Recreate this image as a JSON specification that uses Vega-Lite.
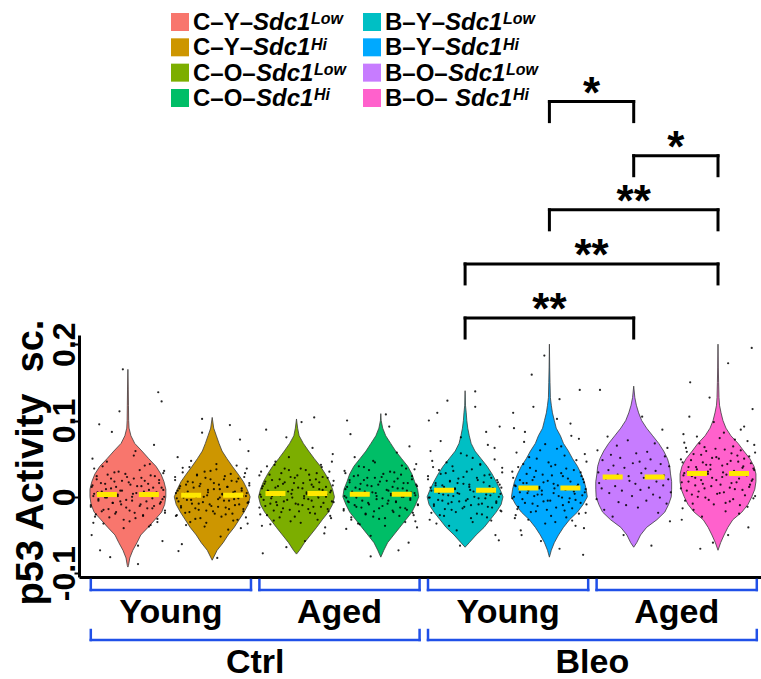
{
"$schema": "https://vega.github.io/schema/vega-lite/v6.json",
"padding": {"left": 11, "top": 0, "right": 0, "bottom": 0},
"spacing": 0,
"bounds": "flush",
"config": {"view": {"stroke": null}, "font": "Liberation Sans"},
"datasets": {
"violins": [
{"g":"CYL","v":[0.167,0.14,0.12,0.10,0.09,0.08,0.07,0.06,0.05,0.04,0.03,0.02,0.01,0.0,-0.01,-0.02,-0.03,-0.04,-0.05,-0.06,-0.07,-0.08,-0.09,-0.092],"d":[0,0.01,0.015,0.02,0.03,0.08,0.18,0.37,0.55,0.74,0.87,0.95,1,1,0.97,0.89,0.71,0.53,0.34,0.24,0.13,0.05,0.015,0]},
{"g":"CYH","v":[0.104,0.09,0.08,0.07,0.06,0.05,0.04,0.03,0.02,0.01,0.0,-0.01,-0.02,-0.03,-0.04,-0.05,-0.06,-0.07,-0.08,-0.083],"d":[0,0.04,0.11,0.18,0.26,0.39,0.53,0.68,0.82,0.92,1,0.95,0.84,0.71,0.58,0.42,0.29,0.13,0.03,0]},
{"g":"COL","v":[0.102,0.09,0.08,0.07,0.06,0.05,0.04,0.03,0.02,0.01,0.0,-0.01,-0.02,-0.03,-0.04,-0.05,-0.06,-0.07,-0.075],"d":[0,0.03,0.07,0.18,0.32,0.47,0.63,0.76,0.87,0.95,1,0.95,0.84,0.68,0.53,0.37,0.21,0.08,0]},
{"g":"COH","v":[0.109,0.1,0.09,0.08,0.07,0.06,0.05,0.04,0.03,0.02,0.01,0.0,-0.01,-0.02,-0.03,-0.04,-0.05,-0.06,-0.07,-0.079],"d":[0,0.01,0.05,0.13,0.26,0.39,0.55,0.71,0.82,0.89,0.97,1,0.92,0.82,0.66,0.5,0.34,0.18,0.08,0]},
{"g":"BYL","v":[0.139,0.12,0.11,0.10,0.09,0.08,0.07,0.06,0.05,0.04,0.03,0.02,0.01,0.0,-0.01,-0.02,-0.03,-0.04,-0.05,-0.06,-0.066],"d":[0,0.01,0.03,0.045,0.07,0.11,0.16,0.26,0.42,0.58,0.71,0.82,0.92,1,0.95,0.82,0.66,0.5,0.29,0.11,0]},
{"g":"BYH","v":[0.2,0.17,0.15,0.13,0.12,0.11,0.10,0.09,0.08,0.07,0.06,0.05,0.04,0.03,0.02,0.01,0.0,-0.01,-0.02,-0.03,-0.04,-0.05,-0.06,-0.07,-0.079],"d":[0,0.008,0.016,0.026,0.05,0.08,0.13,0.18,0.29,0.37,0.5,0.61,0.74,0.84,0.92,0.97,1,0.89,0.74,0.53,0.37,0.24,0.13,0.05,0]},
{"g":"BOL","v":[0.145,0.13,0.12,0.11,0.10,0.09,0.08,0.07,0.06,0.05,0.04,0.03,0.02,0.01,0.0,-0.01,-0.02,-0.03,-0.04,-0.05,-0.06,-0.066],"d":[0,0.03,0.07,0.13,0.21,0.34,0.5,0.66,0.79,0.89,0.95,0.97,1,1,0.99,0.92,0.82,0.61,0.34,0.18,0.08,0]},
{"g":"BOH","v":[0.2,0.17,0.15,0.13,0.12,0.11,0.10,0.09,0.08,0.07,0.06,0.05,0.04,0.03,0.02,0.01,0.0,-0.01,-0.02,-0.03,-0.04,-0.05,-0.06,-0.07],"d":[0,0.008,0.016,0.026,0.04,0.08,0.13,0.21,0.34,0.53,0.68,0.84,0.95,1,1,0.97,0.89,0.79,0.63,0.39,0.26,0.16,0.07,0]}
],
"cells": [
{"g":"CYL","v":[-0.088,-0.07,-0.058,-0.041,-0.037,-0.034,-0.032,-0.029,-0.027,-0.025,-0.023,-0.021,-0.020,-0.018,-0.017,-0.015,-0.014,-0.012,-0.011,-0.010,-0.008,-0.007,-0.006,-0.005,-0.003,-0.002,-0.001,0.000,0.001,0.002,0.004,0.005,0.006,0.007,0.008,0.009,0.011,0.012,0.013,0.014,0.016,0.017,0.018,0.020,0.021,0.023,0.024,0.026,0.027,0.029,0.031,0.033,0.035,0.040,0.043,0.05,0.06,0.085,0.137,0.167],
 "j":[0.12,-0.33,0.41,-0.05,0.27,-0.41,0.02,0.35,-0.22,0.18,-0.38,0.08,-0.14,0.44,-0.29,0.23,-0.02,0.31,-0.44,0.15,-0.18,0.39,-0.09,0.05,-0.35,0.29,-0.25,0.43,-0.12,0.21,-0.4,0.1,0.34,-0.31,-0.07,0.25,-0.2,0.4,-0.43,0.16,0.03,-0.27,0.37,-0.16,0.2,-0.37,0.07,-0.01,0.32,-0.24,0.42,-0.11,0.14,-0.3,0.26,-0.42,0.09,-0.19,0.36,-0.06]},
{"g":"CYL","v":[-0.079,-0.064,-0.050,-0.039,-0.035,-0.033,-0.030,-0.028,-0.026,-0.024,-0.022,-0.021,-0.019,-0.018,-0.016,-0.015,-0.013,-0.012,-0.010,-0.009,-0.008,-0.006,-0.005,-0.004,-0.003,-0.001,0.000,0.001,0.002,0.003,0.004,0.006,0.007,0.008,0.009,0.010,0.012,0.013,0.014,0.015,0.017,0.018,0.019,0.021,0.022,0.024,0.025,0.027,0.028,0.030,0.032,0.034,0.037,0.041,0.046,0.054,0.068,0.095,0.112,0.125],
 "j":[-0.21,0.12,-0.43,0.25,-0.29,0.35,-0.05,0.09,-0.39,0.18,-0.15,0.44,-0.31,0.02,-0.23,0.29,-0.44,0.14,-0.08,0.38,-0.18,0.22,-0.35,-0.02,0.41,-0.27,0.05,-0.41,0.33,-0.12,0.06,-0.36,0.19,-0.09,0.42,-0.26,0.3,-0.14,0.11,-0.42,0.24,-0.32,0.01,-0.07,0.37,-0.2,0.16,-0.37,0.27,-0.03,-0.16,0.43,-0.4,0.2,-0.25,0.07,0.31,-0.34,-0.1,0.4]},
{"g":"CYH","v":[-0.080,-0.062,-0.043,-0.039,-0.035,-0.033,-0.030,-0.028,-0.026,-0.024,-0.022,-0.021,-0.019,-0.018,-0.016,-0.015,-0.014,-0.012,-0.011,-0.010,-0.009,-0.007,-0.006,-0.005,-0.004,-0.003,-0.002,-0.001,0.000,0.001,0.003,0.004,0.005,0.006,0.007,0.008,0.009,0.010,0.011,0.013,0.014,0.015,0.016,0.018,0.019,0.020,0.022,0.023,0.025,0.026,0.028,0.030,0.032,0.034,0.037,0.039,0.043,0.052,0.075,0.102],
 "j":[0.06,-0.36,0.19,-0.09,0.42,-0.26,0.3,-0.14,0.11,-0.42,0.24,-0.32,0.01,-0.07,0.37,-0.2,0.16,-0.37,0.27,-0.03,-0.16,0.43,-0.4,0.2,-0.25,0.07,0.31,-0.34,-0.1,0.4,-0.21,0.12,-0.43,0.25,-0.29,0.35,-0.05,0.09,-0.39,0.18,-0.15,0.44,-0.31,0.02,-0.23,0.29,-0.44,0.14,-0.08,0.38,-0.18,0.22,-0.35,-0.02,0.41,-0.27,0.05,-0.41,0.33,-0.12]},
{"g":"CYH","v":[-0.071,-0.052,-0.041,-0.037,-0.034,-0.031,-0.029,-0.027,-0.025,-0.023,-0.022,-0.020,-0.019,-0.017,-0.016,-0.014,-0.013,-0.012,-0.010,-0.009,-0.008,-0.007,-0.005,-0.004,-0.003,-0.002,-0.001,0.000,0.001,0.002,0.003,0.004,0.005,0.006,0.007,0.008,0.010,0.011,0.012,0.013,0.014,0.016,0.017,0.018,0.020,0.021,0.023,0.024,0.026,0.027,0.029,0.031,0.033,0.036,0.038,0.041,0.047,0.060,0.084,0.094],
 "j":[-0.4,0.1,0.34,-0.31,-0.07,0.25,-0.2,0.4,-0.43,0.16,0.03,-0.27,0.37,-0.16,0.2,-0.37,0.07,-0.01,0.32,-0.24,0.42,-0.11,0.14,-0.3,0.26,-0.42,0.09,-0.19,0.36,-0.06,0.12,-0.33,0.41,-0.05,0.27,-0.41,0.02,0.35,-0.22,0.18,-0.38,0.08,-0.14,0.44,-0.29,0.23,-0.02,0.31,-0.44,0.15,-0.18,0.39,-0.09,0.05,-0.35,0.29,-0.25,0.43,-0.12,0.21]},
{"g":"COL","v":[-0.074,-0.058,-0.040,-0.036,-0.032,-0.030,-0.027,-0.025,-0.023,-0.021,-0.019,-0.018,-0.016,-0.015,-0.013,-0.012,-0.011,-0.009,-0.008,-0.007,-0.006,-0.004,-0.003,-0.002,-0.001,0.000,0.001,0.002,0.003,0.004,0.006,0.007,0.008,0.009,0.010,0.011,0.012,0.013,0.014,0.016,0.017,0.018,0.019,0.021,0.022,0.023,0.025,0.026,0.028,0.029,0.031,0.033,0.035,0.037,0.040,0.042,0.046,0.056,0.078,0.104],
 "j":[-0.4,0.1,0.34,-0.31,-0.07,0.25,-0.2,0.4,-0.43,0.16,0.03,-0.27,0.37,-0.16,0.2,-0.37,0.07,-0.01,0.32,-0.24,0.42,-0.11,0.14,-0.3,0.26,-0.42,0.09,-0.19,0.36,-0.06,0.12,-0.33,0.41,-0.05,0.27,-0.41,0.02,0.35,-0.22,0.18,-0.38,0.08,-0.14,0.44,-0.29,0.23,-0.02,0.31,-0.44,0.15,-0.18,0.39,-0.09,0.05,-0.35,0.29,-0.25,0.43,-0.12,0.21]},
{"g":"COL","v":[-0.066,-0.048,-0.038,-0.034,-0.031,-0.028,-0.026,-0.024,-0.022,-0.020,-0.019,-0.017,-0.016,-0.014,-0.013,-0.011,-0.010,-0.009,-0.007,-0.006,-0.005,-0.004,-0.002,-0.001,0.000,0.001,0.002,0.003,0.004,0.005,0.006,0.007,0.008,0.009,0.011,0.012,0.013,0.014,0.015,0.017,0.018,0.019,0.020,0.022,0.023,0.025,0.026,0.028,0.029,0.031,0.033,0.035,0.037,0.039,0.042,0.046,0.052,0.064,0.088,0.098],
 "j":[-0.12,0.33,-0.41,0.05,-0.27,0.41,-0.02,-0.35,0.22,-0.18,0.38,-0.08,0.14,-0.44,0.29,-0.23,0.02,-0.31,0.44,-0.15,0.18,-0.39,0.09,-0.05,0.35,-0.29,0.25,-0.43,0.12,-0.21,0.4,-0.1,-0.34,0.31,0.07,-0.25,0.2,-0.4,0.43,-0.16,-0.03,0.27,-0.37,0.16,-0.2,0.37,-0.07,0.01,-0.32,0.24,-0.42,0.11,-0.14,0.3,-0.26,0.42,-0.09,0.19,-0.36,0.06]},
{"g":"COH","v":[-0.078,-0.060,-0.042,-0.038,-0.035,-0.032,-0.029,-0.027,-0.025,-0.023,-0.021,-0.019,-0.018,-0.016,-0.015,-0.014,-0.012,-0.011,-0.010,-0.008,-0.007,-0.006,-0.005,-0.003,-0.002,-0.001,0.000,0.001,0.002,0.003,0.005,0.006,0.007,0.008,0.009,0.010,0.011,0.013,0.014,0.015,0.016,0.018,0.019,0.020,0.022,0.023,0.025,0.026,0.027,0.029,0.031,0.033,0.035,0.037,0.040,0.043,0.047,0.058,0.082,0.108],
 "j":[-0.12,0.33,-0.41,0.05,-0.27,0.41,-0.02,-0.35,0.22,-0.18,0.38,-0.08,0.14,-0.44,0.29,-0.23,0.02,-0.31,0.44,-0.15,0.18,-0.39,0.09,-0.05,0.35,-0.29,0.25,-0.43,0.12,-0.21,0.4,-0.1,-0.34,0.31,0.07,-0.25,0.2,-0.4,0.43,-0.16,-0.03,0.27,-0.37,0.16,-0.2,0.37,-0.07,0.01,-0.32,0.24,-0.42,0.11,-0.14,0.3,-0.26,0.42,-0.09,0.19,-0.36,0.06]},
{"g":"COH","v":[-0.070,-0.051,-0.040,-0.036,-0.033,-0.030,-0.028,-0.026,-0.024,-0.022,-0.020,-0.018,-0.017,-0.015,-0.014,-0.013,-0.011,-0.010,-0.009,-0.007,-0.006,-0.005,-0.004,-0.002,-0.001,0.000,0.001,0.002,0.003,0.004,0.005,0.006,0.007,0.008,0.010,0.011,0.012,0.013,0.014,0.016,0.017,0.018,0.020,0.021,0.022,0.024,0.025,0.027,0.028,0.030,0.032,0.034,0.036,0.039,0.041,0.045,0.052,0.066,0.092,0.100],
 "j":[0.21,-0.12,0.43,-0.25,0.29,-0.35,0.05,-0.09,0.39,-0.18,0.15,-0.44,0.31,-0.02,0.23,-0.29,0.44,-0.14,0.08,-0.38,0.18,-0.22,0.35,0.02,-0.41,0.27,-0.05,0.41,-0.33,0.12,-0.06,0.36,-0.19,0.09,-0.42,0.26,-0.3,0.14,-0.11,0.42,-0.24,0.32,-0.01,0.07,-0.37,0.2,-0.16,0.37,-0.27,0.03,0.16,-0.43,0.4,-0.2,0.25,-0.07,-0.31,0.34,0.1,-0.4]},
{"g":"BYL","v":[-0.064,-0.050,-0.038,-0.033,-0.030,-0.027,-0.024,-0.022,-0.020,-0.018,-0.016,-0.014,-0.013,-0.011,-0.010,-0.009,-0.007,-0.006,-0.005,-0.003,-0.002,-0.001,0.000,0.002,0.003,0.004,0.005,0.006,0.007,0.008,0.010,0.011,0.012,0.013,0.014,0.015,0.016,0.018,0.019,0.020,0.022,0.023,0.025,0.026,0.028,0.030,0.032,0.034,0.036,0.039,0.042,0.045,0.049,0.054,0.060,0.068,0.078,0.092,0.110,0.138],
 "j":[-0.06,0.36,-0.19,0.09,-0.42,0.26,-0.3,0.14,-0.11,0.42,-0.24,0.32,-0.01,0.07,-0.37,0.2,-0.16,0.37,-0.27,0.03,0.16,-0.43,0.4,-0.2,0.25,-0.07,-0.31,0.34,0.1,-0.4,0.21,-0.12,0.43,-0.25,0.29,-0.35,0.05,-0.09,0.39,-0.18,0.15,-0.44,0.31,-0.02,0.23,-0.29,0.44,-0.14,0.08,-0.38,0.18,-0.22,0.35,0.02,-0.41,0.27,-0.05,0.41,-0.33,0.12]},
{"g":"BYL","v":[-0.057,-0.044,-0.035,-0.031,-0.028,-0.025,-0.023,-0.021,-0.019,-0.017,-0.015,-0.013,-0.012,-0.010,-0.009,-0.008,-0.006,-0.005,-0.004,-0.002,-0.001,0.000,0.001,0.002,0.003,0.004,0.005,0.007,0.008,0.009,0.010,0.011,0.012,0.013,0.015,0.016,0.017,0.018,0.019,0.021,0.022,0.024,0.025,0.027,0.029,0.031,0.033,0.035,0.038,0.040,0.043,0.047,0.051,0.057,0.064,0.073,0.085,0.100,0.118,0.126],
 "j":[0.4,-0.1,-0.34,0.31,0.07,-0.25,0.2,-0.4,0.43,-0.16,-0.03,0.27,-0.37,0.16,-0.2,0.37,-0.07,0.01,-0.32,0.24,-0.42,0.11,-0.14,0.3,-0.26,0.42,-0.09,0.19,-0.36,0.06,-0.12,0.33,-0.41,0.05,-0.27,0.41,-0.02,-0.35,0.22,-0.18,0.38,-0.08,0.14,-0.44,0.29,-0.23,0.02,-0.31,0.44,-0.15,0.18,-0.39,0.09,-0.05,0.35,-0.29,0.25,-0.43,0.12,-0.21]},
{"g":"BYH","v":[-0.076,-0.058,-0.044,-0.038,-0.033,-0.030,-0.027,-0.024,-0.021,-0.019,-0.017,-0.015,-0.013,-0.011,-0.009,-0.008,-0.006,-0.005,-0.003,-0.002,0.000,0.001,0.003,0.004,0.005,0.006,0.008,0.009,0.010,0.011,0.013,0.014,0.015,0.017,0.018,0.019,0.021,0.022,0.024,0.026,0.027,0.029,0.031,0.033,0.035,0.038,0.040,0.043,0.046,0.050,0.054,0.058,0.063,0.069,0.076,0.085,0.096,0.110,0.128,0.160],
 "j":[0.4,-0.1,-0.34,0.31,0.07,-0.25,0.2,-0.4,0.43,-0.16,-0.03,0.27,-0.37,0.16,-0.2,0.37,-0.07,0.01,-0.32,0.24,-0.42,0.11,-0.14,0.3,-0.26,0.42,-0.09,0.19,-0.36,0.06,-0.12,0.33,-0.41,0.05,-0.27,0.41,-0.02,-0.35,0.22,-0.18,0.38,-0.08,0.14,-0.44,0.29,-0.23,0.02,-0.31,0.44,-0.15,0.18,-0.39,0.09,-0.05,0.35,-0.29,0.25,-0.43,0.12,-0.21]},
{"g":"BYH","v":[-0.068,-0.050,-0.041,-0.035,-0.031,-0.028,-0.025,-0.022,-0.020,-0.018,-0.016,-0.014,-0.012,-0.010,-0.008,-0.007,-0.005,-0.004,-0.002,-0.001,0.001,0.002,0.003,0.005,0.006,0.007,0.008,0.010,0.011,0.012,0.014,0.015,0.016,0.018,0.019,0.020,0.022,0.023,0.025,0.027,0.028,0.030,0.032,0.034,0.037,0.039,0.042,0.045,0.048,0.052,0.056,0.061,0.066,0.072,0.080,0.090,0.102,0.118,0.140,0.185],
 "j":[0.12,-0.33,0.41,-0.05,0.27,-0.41,0.02,0.35,-0.22,0.18,-0.38,0.08,-0.14,0.44,-0.29,0.23,-0.02,0.31,-0.44,0.15,-0.18,0.39,-0.09,0.05,-0.35,0.29,-0.25,0.43,-0.12,0.21,-0.4,0.1,0.34,-0.31,-0.07,0.25,-0.2,0.4,-0.43,0.16,0.03,-0.27,0.37,-0.16,0.2,-0.37,0.07,-0.01,0.32,-0.24,0.42,-0.11,0.14,-0.3,0.26,-0.42,0.09,-0.19,0.36,-0.06]},
{"g":"BOL","v":[-0.064,-0.050,-0.032,-0.026,-0.021,-0.017,-0.014,-0.011,-0.009,-0.007,-0.005,-0.003,-0.001,0.001,0.003,0.005,0.006,0.008,0.009,0.011,0.012,0.014,0.015,0.017,0.018,0.020,0.021,0.023,0.024,0.025,0.027,0.028,0.029,0.031,0.032,0.034,0.035,0.037,0.038,0.040,0.041,0.043,0.044,0.046,0.048,0.049,0.051,0.053,0.055,0.057,0.059,0.061,0.064,0.067,0.070,0.074,0.079,0.088,0.105,0.140],
 "j":[0.21,-0.12,0.43,-0.25,0.29,-0.35,0.05,-0.09,0.39,-0.18,0.15,-0.44,0.31,-0.02,0.23,-0.29,0.44,-0.14,0.08,-0.38,0.18,-0.22,0.35,0.02,-0.41,0.27,-0.05,0.41,-0.33,0.12,-0.06,0.36,-0.19,0.09,-0.42,0.26,-0.3,0.14,-0.11,0.42,-0.24,0.32,-0.01,0.07,-0.37,0.2,-0.16,0.37,-0.27,0.03,0.16,-0.43,0.4,-0.2,0.25,-0.07,-0.31,0.34,0.1,-0.4]},
{"g":"BOH","v":[-0.068,-0.050,-0.030,-0.022,-0.017,-0.013,-0.010,-0.008,-0.005,-0.003,-0.001,0.001,0.003,0.005,0.007,0.009,0.011,0.012,0.014,0.016,0.017,0.019,0.020,0.022,0.023,0.025,0.026,0.028,0.029,0.030,0.032,0.033,0.034,0.036,0.037,0.039,0.040,0.042,0.043,0.045,0.046,0.048,0.050,0.051,0.053,0.055,0.057,0.059,0.061,0.063,0.065,0.068,0.071,0.075,0.079,0.084,0.092,0.105,0.130,0.195],
 "j":[-0.21,0.12,-0.43,0.25,-0.29,0.35,-0.05,0.09,-0.39,0.18,-0.15,0.44,-0.31,0.02,-0.23,0.29,-0.44,0.14,-0.08,0.38,-0.18,0.22,-0.35,-0.02,0.41,-0.27,0.05,-0.41,0.33,-0.12,0.06,-0.36,0.19,-0.09,0.42,-0.26,0.3,-0.14,0.11,-0.42,0.24,-0.32,0.01,-0.07,0.37,-0.2,0.16,-0.37,0.27,-0.03,-0.16,0.43,-0.4,0.2,-0.25,0.07,0.31,-0.34,-0.1,0.4]},
{"g":"BOH","v":[-0.060,-0.040,-0.026,-0.019,-0.015,-0.011,-0.009,-0.006,-0.004,-0.002,0.000,0.002,0.004,0.006,0.008,0.010,0.011,0.013,0.015,0.016,0.018,0.019,0.021,0.022,0.024,0.025,0.027,0.028,0.029,0.031,0.032,0.033,0.035,0.036,0.038,0.039,0.041,0.042,0.044,0.045,0.047,0.049,0.050,0.052,0.054,0.056,0.058,0.060,0.062,0.064,0.066,0.070,0.073,0.077,0.082,0.088,0.098,0.115,0.150,0.175],
 "j":[-0.06,0.36,-0.19,0.09,-0.42,0.26,-0.3,0.14,-0.11,0.42,-0.24,0.32,-0.01,0.07,-0.37,0.2,-0.16,0.37,-0.27,0.03,0.16,-0.43,0.4,-0.2,0.25,-0.07,-0.31,0.34,0.1,-0.4,0.21,-0.12,0.43,-0.25,0.29,-0.35,0.05,-0.09,0.39,-0.18,0.15,-0.44,0.31,-0.02,0.23,-0.29,0.44,-0.14,0.08,-0.38,0.18,-0.22,0.35,0.02,-0.41,0.27,-0.05,0.41,-0.33,0.12]}
],
"medians": [
{"g":"CYL","median":0.0031},{"g":"CYH","median":0.0022},{"g":"COL","median":0.0044},{"g":"COH","median":0.0035},
{"g":"BYL","median":0.0087},{"g":"BYH","median":0.0117},{"g":"BOL","median":0.0261},{"g":"BOH","median":0.0306}
],
"legend": [
{"g":"CYL","col":0,"row":0,"pre":"C–Y–","gene":"Sdc1","sup":"Low"},
{"g":"CYH","col":0,"row":1,"pre":"C–Y–","gene":"Sdc1","sup":"Hi"},
{"g":"COL","col":0,"row":2,"pre":"C–O–","gene":"Sdc1","sup":"Low"},
{"g":"COH","col":0,"row":3,"pre":"C–O–","gene":"Sdc1","sup":"Hi"},
{"g":"BYL","col":1,"row":0,"pre":"B–Y–","gene":"Sdc1","sup":"Low"},
{"g":"BYH","col":1,"row":1,"pre":"B–Y–","gene":"Sdc1","sup":"Hi"},
{"g":"BOL","col":1,"row":2,"pre":"B–O–","gene":"Sdc1","sup":"Low"},
{"g":"BOH","col":1,"row":3,"pre":"B–O– ","gene":"Sdc1","sup":"Hi"}
],
"sig": [
{"from":6,"to":7,"level":5,"sig":"*"},
{"from":7,"to":8,"level":4,"sig":"*"},
{"from":6,"to":8,"level":3,"sig":"**"},
{"from":5,"to":8,"level":2,"sig":"**"},
{"from":5,"to":7,"level":1,"sig":"**"}
],
"axisGroups": [
{"label":"Young","first":1,"last":2,"tier":1},
{"label":"Aged","first":3,"last":4,"tier":1},
{"label":"Young","first":5,"last":6,"tier":1},
{"label":"Aged","first":7,"last":8,"tier":1},
{"label":"Ctrl","first":1,"last":4,"tier":2},
{"label":"Bleo","first":5,"last":8,"tier":2}
]
},
"vconcat": [
{
"width": 682, "height": 335,
"resolve": {"scale": {"x": "independent", "y": "independent"}},
"layer": [
{"data": {"name": "sig"},
 "mark": {"type": "rule", "strokeWidth": 3, "color": "black", "strokeCap": "square"},
 "encoding": {
  "x": {"field": "from", "type": "quantitative", "scale": {"domain": [0.42, 8.51], "nice": false, "zero": false}, "axis": null},
  "x2": {"field": "to"},
  "y": {"field": "level", "type": "quantitative", "scale": {"domain": [0.686, 6.878], "nice": false, "zero": false}, "axis": null}}},
{"data": {"name": "sig"},
 "transform": [{"calculate": "datum.level - 0.37", "as": "foot"}],
 "mark": {"type": "rule", "strokeWidth": 3, "color": "black", "strokeCap": "square"},
 "encoding": {
  "x": {"field": "from", "type": "quantitative", "scale": {"domain": [0.42, 8.51], "nice": false, "zero": false}, "axis": null},
  "y": {"field": "level", "type": "quantitative", "scale": {"domain": [0.686, 6.878], "nice": false, "zero": false}, "axis": null},
  "y2": {"field": "foot"}}},
{"data": {"name": "sig"},
 "transform": [{"calculate": "datum.level - 0.37", "as": "foot"}],
 "mark": {"type": "rule", "strokeWidth": 3, "color": "black", "strokeCap": "square"},
 "encoding": {
  "x": {"field": "to", "type": "quantitative", "scale": {"domain": [0.42, 8.51], "nice": false, "zero": false}, "axis": null},
  "y": {"field": "level", "type": "quantitative", "scale": {"domain": [0.686, 6.878], "nice": false, "zero": false}, "axis": null},
  "y2": {"field": "foot"}}},
{"data": {"name": "sig"},
 "transform": [{"calculate": "(datum.from + datum.to) / 2", "as": "mid"}],
 "mark": {"type": "text", "fontSize": 44, "fontWeight": "bold", "font": "Liberation Sans", "align": "center", "baseline": "alphabetic", "dy": 6, "color": "black"},
 "encoding": {
  "x": {"field": "mid", "type": "quantitative", "scale": {"domain": [0.42, 8.51], "nice": false, "zero": false}, "axis": null},
  "y": {"field": "level", "type": "quantitative", "scale": {"domain": [0.686, 6.878], "nice": false, "zero": false}, "axis": null},
  "text": {"field": "sig"}}},
{"data": {"name": "legend"},
 "mark": {"type": "point", "shape": "square", "filled": true, "size": 324, "opacity": 1},
 "encoding": {
  "x": {"field": "col", "type": "quantitative", "scale": {"domain": [-0.526, 3.026], "nice": false, "zero": false}, "axis": null},
  "y": {"field": "row", "type": "quantitative", "scale": {"domain": [-0.868, 12.357], "reverse": true, "nice": false, "zero": false}, "axis": null},
  "color": {"field": "g", "type": "nominal", "legend": null,
   "scale": {"domain": ["CYL","CYH","COL","COH","BYL","BYH","BOL","BOH"], "range": ["#F8766D","#CD9600","#7CAE00","#00BE67","#00BFC4","#00A9FF","#C77CFF","#FF61CC"]}}}},
{"data": {"name": "legend"},
 "mark": {"type": "text", "align": "left", "baseline": "alphabetic", "dx": 13, "dy": 8, "fontSize": 24, "fontWeight": "bold", "font": "Liberation Sans", "color": "black"},
 "encoding": {
  "x": {"field": "col", "type": "quantitative", "scale": {"domain": [-0.526, 3.026], "nice": false, "zero": false}, "axis": null},
  "y": {"field": "row", "type": "quantitative", "scale": {"domain": [-0.868, 12.357], "reverse": true, "nice": false, "zero": false}, "axis": null},
  "text": {"field": "pre"}}},
{"data": {"name": "legend"},
 "transform": [{"filter": "indexof(datum.pre, 'Y') >= 0"}],
 "mark": {"type": "text", "align": "left", "baseline": "alphabetic", "dx": 73, "dy": 8, "fontSize": 24, "fontWeight": "bold", "fontStyle": "italic", "font": "Liberation Sans", "color": "black"},
 "encoding": {
  "x": {"field": "col", "type": "quantitative", "scale": {"domain": [-0.526, 3.026], "nice": false, "zero": false}, "axis": null},
  "y": {"field": "row", "type": "quantitative", "scale": {"domain": [-0.868, 12.357], "reverse": true, "nice": false, "zero": false}, "axis": null},
  "text": {"field": "gene"}}},
{"data": {"name": "legend"},
 "transform": [{"filter": "datum.pre == 'C–O–' || datum.pre == 'B–O–'"}],
 "mark": {"type": "text", "align": "left", "baseline": "alphabetic", "dx": 76, "dy": 8, "fontSize": 24, "fontWeight": "bold", "fontStyle": "italic", "font": "Liberation Sans", "color": "black"},
 "encoding": {
  "x": {"field": "col", "type": "quantitative", "scale": {"domain": [-0.526, 3.026], "nice": false, "zero": false}, "axis": null},
  "y": {"field": "row", "type": "quantitative", "scale": {"domain": [-0.868, 12.357], "reverse": true, "nice": false, "zero": false}, "axis": null},
  "text": {"field": "gene"}}},
{"data": {"name": "legend"},
 "transform": [{"filter": "datum.pre == 'B–O– '"}],
 "mark": {"type": "text", "align": "left", "baseline": "alphabetic", "dx": 83, "dy": 8, "fontSize": 24, "fontWeight": "bold", "fontStyle": "italic", "font": "Liberation Sans", "color": "black"},
 "encoding": {
  "x": {"field": "col", "type": "quantitative", "scale": {"domain": [-0.526, 3.026], "nice": false, "zero": false}, "axis": null},
  "y": {"field": "row", "type": "quantitative", "scale": {"domain": [-0.868, 12.357], "reverse": true, "nice": false, "zero": false}, "axis": null},
  "text": {"field": "gene"}}},
{"data": {"name": "legend"},
 "transform": [{"filter": "indexof(datum.pre, 'Y') >= 0"}],
 "mark": {"type": "text", "align": "left", "baseline": "alphabetic", "dx": 131, "dy": 2.5, "fontSize": 16, "fontWeight": "bold", "fontStyle": "italic", "font": "Liberation Sans", "color": "black"},
 "encoding": {
  "x": {"field": "col", "type": "quantitative", "scale": {"domain": [-0.526, 3.026], "nice": false, "zero": false}, "axis": null},
  "y": {"field": "row", "type": "quantitative", "scale": {"domain": [-0.868, 12.357], "reverse": true, "nice": false, "zero": false}, "axis": null},
  "text": {"field": "sup"}}},
{"data": {"name": "legend"},
 "transform": [{"filter": "datum.pre == 'C–O–' || datum.pre == 'B–O–'"}],
 "mark": {"type": "text", "align": "left", "baseline": "alphabetic", "dx": 134, "dy": 2.5, "fontSize": 16, "fontWeight": "bold", "fontStyle": "italic", "font": "Liberation Sans", "color": "black"},
 "encoding": {
  "x": {"field": "col", "type": "quantitative", "scale": {"domain": [-0.526, 3.026], "nice": false, "zero": false}, "axis": null},
  "y": {"field": "row", "type": "quantitative", "scale": {"domain": [-0.868, 12.357], "reverse": true, "nice": false, "zero": false}, "axis": null},
  "text": {"field": "sup"}}},
{"data": {"name": "legend"},
 "transform": [{"filter": "datum.pre == 'B–O– '"}],
 "mark": {"type": "text", "align": "left", "baseline": "alphabetic", "dx": 141, "dy": 2.5, "fontSize": 16, "fontWeight": "bold", "fontStyle": "italic", "font": "Liberation Sans", "color": "black"},
 "encoding": {
  "x": {"field": "col", "type": "quantitative", "scale": {"domain": [-0.526, 3.026], "nice": false, "zero": false}, "axis": null},
  "y": {"field": "row", "type": "quantitative", "scale": {"domain": [-0.868, 12.357], "reverse": true, "nice": false, "zero": false}, "axis": null},
  "text": {"field": "sup"}}}
]
},
{
"width": 682, "height": 242,
"layer": [
{"data": {"name": "violins"},
 "transform": [
  {"flatten": ["v", "d"]},
  {"calculate": "indexof(['CYL','CYH','COL','COH','BYL','BYH','BOL','BOH'], datum.g) + 1", "as": "pos"},
  {"calculate": "datum.pos - 0.45 * datum.d", "as": "xl"},
  {"calculate": "datum.pos + 0.45 * datum.d", "as": "xr"}],
 "mark": {"type": "area", "orient": "horizontal", "stroke": "#3c3c3c", "strokeWidth": 0.8, "opacity": 1},
 "encoding": {
  "y": {"field": "v", "type": "quantitative", "title": "p53 Activity\u00a0 sc.",
   "scale": {"domain": [-0.105, 0.212], "nice": false, "zero": false},
   "axis": {"values": [-0.1, 0, 0.1, 0.2], "labelExpr": "datum.value == 0 ? '0' : (datum.value < 0 ? '-' + format(-datum.value, '.1f') : format(datum.value, '.1f'))",
    "grid": false, "domainColor": "black", "domainWidth": 3, "tickColor": "black", "tickWidth": 2, "tickSize": 5,
    "labelAngle": 270, "labelAlign": "center", "labelBaseline": "alphabetic", "labelPadding": 0, "labelFont": "Liberation Sans", "labelFontSize": 32, "labelFontWeight": "bold", "labelColor": "black", "labelOverlap": false, "labelFlush": false,
    "titleFont": "Liberation Sans", "titleFontSize": 38, "titleFontWeight": "bold", "titleColor": "black", "titleAngle": 270, "titleAlign": "center", "titleBaseline": "alphabetic", "titleX": -37, "titleY": 127}},
  "x": {"field": "xl", "type": "quantitative", "title": null,
   "scale": {"domain": [0.42, 8.51], "nice": false, "zero": false},
   "axis": {"labels": false, "ticks": false, "grid": false, "domainColor": "black", "domainWidth": 3}},
  "x2": {"field": "xr"},
  "color": {"field": "g", "type": "nominal", "legend": null,
   "scale": {"domain": ["CYL","CYH","COL","COH","BYL","BYH","BOL","BOH"], "range": ["#F8766D","#CD9600","#7CAE00","#00BE67","#00BFC4","#00A9FF","#C77CFF","#FF61CC"]}}}},
{"data": {"name": "cells"},
 "transform": [
  {"flatten": ["v", "j"]},
  {"calculate": "indexof(['CYL','CYH','COL','COH','BYL','BYH','BOL','BOH'], datum.g) + 1", "as": "pos"},
  {"calculate": "datum.pos + datum.j", "as": "px"}],
 "mark": {"type": "circle", "size": 5, "color": "black", "opacity": 0.85},
 "encoding": {
  "x": {"field": "px", "type": "quantitative", "title": null, "scale": {"domain": [0.42, 8.51], "nice": false, "zero": false}},
  "y": {"field": "v", "type": "quantitative", "title": "p53 Activity\u00a0 sc.", "scale": {"domain": [-0.105, 0.212], "nice": false, "zero": false}}}},
{"data": {"name": "medians"},
 "transform": [
  {"calculate": "indexof(['CYL','CYH','COL','COH','BYL','BYH','BOL','BOH'], datum.g) + 1", "as": "pos"},
  {"calculate": "datum.pos - 0.368", "as": "ml"},
  {"calculate": "datum.pos + 0.368", "as": "mr"}],
 "mark": {"type": "rule", "color": "#FFE800", "strokeWidth": 5, "strokeDash": [20, 22]},
 "encoding": {
  "x": {"field": "ml", "type": "quantitative", "title": null, "scale": {"domain": [0.42, 8.51], "nice": false, "zero": false}},
  "x2": {"field": "mr"},
  "y": {"field": "median", "type": "quantitative", "title": "p53 Activity\u00a0 sc.", "scale": {"domain": [-0.105, 0.212], "nice": false, "zero": false}}}}
]
},
{
"width": 682, "height": 102,
"data": {"name": "axisGroups"},
"transform": [
 {"calculate": "datum.first - 0.44", "as": "xl"},
 {"calculate": "datum.last + 0.46", "as": "xr"},
 {"calculate": "(datum.xl + datum.xr) / 2", "as": "xm"},
 {"calculate": "datum.tier - 0.2", "as": "top"}],
"layer": [
{"mark": {"type": "rule", "color": "#2050E8", "strokeWidth": 2.5, "strokeCap": "square"},
 "encoding": {
  "x": {"field": "xl", "type": "quantitative", "scale": {"domain": [0.42, 8.51], "nice": false, "zero": false}, "axis": null},
  "x2": {"field": "xr"},
  "y": {"field": "tier", "type": "quantitative", "scale": {"domain": [0.74, 2.78], "reverse": true, "nice": false, "zero": false}, "axis": null}}},
{"mark": {"type": "rule", "color": "#2050E8", "strokeWidth": 2.5, "strokeCap": "square"},
 "encoding": {
  "x": {"field": "xl", "type": "quantitative", "scale": {"domain": [0.42, 8.51], "nice": false, "zero": false}, "axis": null},
  "y": {"field": "tier", "type": "quantitative", "scale": {"domain": [0.74, 2.78], "reverse": true, "nice": false, "zero": false}, "axis": null},
  "y2": {"field": "top"}}},
{"mark": {"type": "rule", "color": "#2050E8", "strokeWidth": 2.5, "strokeCap": "square"},
 "encoding": {
  "x": {"field": "xr", "type": "quantitative", "scale": {"domain": [0.42, 8.51], "nice": false, "zero": false}, "axis": null},
  "y": {"field": "tier", "type": "quantitative", "scale": {"domain": [0.74, 2.78], "reverse": true, "nice": false, "zero": false}, "axis": null},
  "y2": {"field": "top"}}},
{"mark": {"type": "text", "align": "center", "baseline": "alphabetic", "dy": 33, "fontSize": 34, "fontWeight": "bold", "font": "Liberation Sans", "color": "black"},
 "encoding": {
  "x": {"field": "xm", "type": "quantitative", "scale": {"domain": [0.42, 8.51], "nice": false, "zero": false}, "axis": null},
  "y": {"field": "tier", "type": "quantitative", "scale": {"domain": [0.74, 2.78], "reverse": true, "nice": false, "zero": false}, "axis": null},
  "text": {"field": "label"}}}
]
}
]
}
